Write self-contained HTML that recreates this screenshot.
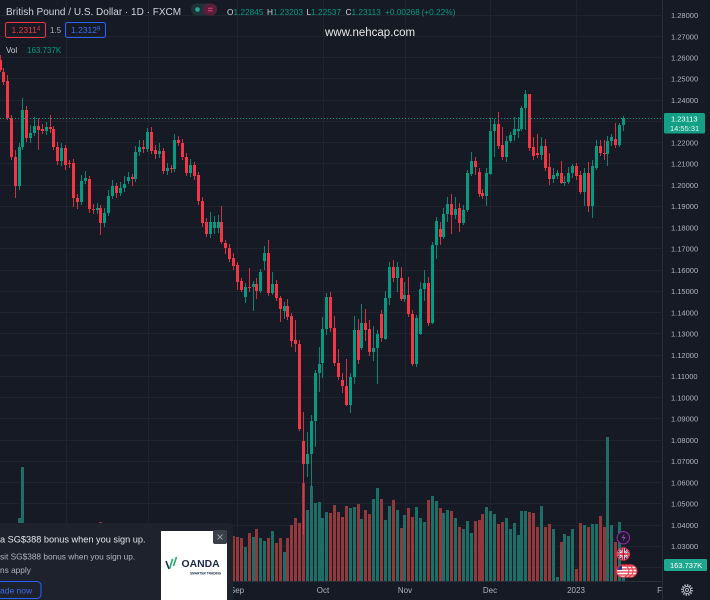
<!DOCTYPE html>
<html><head><meta charset="utf-8">
<style>
html,body{margin:0;padding:0;background:#161a25;width:710px;height:600px;overflow:hidden}
svg{display:block}
text{font-family:"Liberation Sans",sans-serif}
</style></head>
<body>
<svg width="710" height="600" viewBox="0 0 710 600" xmlns="http://www.w3.org/2000/svg">
<rect width="710" height="600" fill="#161a25"/>
<!-- grid -->
<path stroke="#20242f" stroke-width="1" fill="none" d="M0 15.5H663M0 36.5H663M0 57.5H663M0 78.5H663M0 100.5H663M0 121.5H663M0 142.5H663M0 163.5H663M0 185.5H663M0 206.5H663M0 227.5H663M0 248.5H663M0 270.5H663M0 291.5H663M0 312.5H663M0 333.5H663M0 355.5H663M0 376.5H663M0 397.5H663M0 418.5H663M0 440.5H663M0 461.5H663M0 482.5H663M0 503.5H663M0 525.5H663M0 546.5H663M0 567.5H663M66.5 0V581M148.5 0V581M237.5 0V581M323.5 0V581M405.5 0V581M490.5 0V581M576.5 0V581"/>

<!-- volumes -->
<path fill="#1d6e66" d="M18 518h3V581h-3zM21 467h3V581h-3zM244 547h3V581h-3zM252 537h3V581h-3zM259 538h3V581h-3zM263 541h3V581h-3zM271 531h3V581h-3zM283 552h3V581h-3zM306 510h3V581h-3zM310 486h3V581h-3zM314 503h3V581h-3zM318 502h3V581h-3zM321 518h3V581h-3zM325 512h3V581h-3zM349 508h3V581h-3zM353 507h3V581h-3zM360 519h3V581h-3zM372 499h3V581h-3zM376 488h3V581h-3zM384 520h3V581h-3zM388 506h3V581h-3zM396 510h3V581h-3zM403 515h3V581h-3zM415 507h3V581h-3zM419 518h3V581h-3zM423 522h3V581h-3zM431 496h3V581h-3zM435 501h3V581h-3zM442 513h3V581h-3zM446 510h3V581h-3zM454 518h3V581h-3zM462 529h3V581h-3zM466 521h3V581h-3zM470 533h3V581h-3zM485 507h3V581h-3zM489 511h3V581h-3zM493 514h3V581h-3zM505 518h3V581h-3zM509 529h3V581h-3zM513 523h3V581h-3zM517 535h3V581h-3zM520 511h3V581h-3zM524 511h3V581h-3zM540 506h3V581h-3zM552 529h3V581h-3zM556 577h3V581h-3zM563 534h3V581h-3zM567 536h3V581h-3zM571 529h3V581h-3zM583 525h3V581h-3zM591 524h3V581h-3zM595 524h3V581h-3zM606 437h3V581h-3zM610 525h3V581h-3zM618 522h3V581h-3zM622 567h3V581h-3z"/>
<path fill="#93393b" d="M99 522h3V581h-3zM232 536h3V581h-3zM236 537h3V581h-3zM240 538h3V581h-3zM248 533h3V581h-3zM255 529h3V581h-3zM267 538h3V581h-3zM275 543h3V581h-3zM279 538h3V581h-3zM286 538h3V581h-3zM290 525h3V581h-3zM294 518h3V581h-3zM298 523h3V581h-3zM302 483h3V581h-3zM329 513h3V581h-3zM333 505h3V581h-3zM337 512h3V581h-3zM341 517h3V581h-3zM345 506h3V581h-3zM357 504h3V581h-3zM364 510h3V581h-3zM368 514h3V581h-3zM380 499h3V581h-3zM392 500h3V581h-3zM400 528h3V581h-3zM407 508h3V581h-3zM411 517h3V581h-3zM427 500h3V581h-3zM439 508h3V581h-3zM450 511h3V581h-3zM458 527h3V581h-3zM474 521h3V581h-3zM478 520h3V581h-3zM481 514h3V581h-3zM497 524h3V581h-3zM501 522h3V581h-3zM528 512h3V581h-3zM532 513h3V581h-3zM536 527h3V581h-3zM544 527h3V581h-3zM548 524h3V581h-3zM560 542h3V581h-3zM575 569h3V581h-3zM579 523h3V581h-3zM587 527h3V581h-3zM599 516h3V581h-3zM603 527h3V581h-3zM614 542h3V581h-3z"/>

<!-- wicks -->
<path stroke="#089981" stroke-width="1" stroke-opacity="0.85" fill="none" d="M19.5 143V190M22.5 98V150M30.5 125V143M34.5 117V136M46.5 122V135M61.5 143V166M81.5 175V205M85.5 171V184M97.5 203V214M104.5 208V227M108.5 190V216M112.5 180V199M120.5 182V196M124.5 176V192M128.5 172V184M135.5 146V182M139.5 140V156M147.5 128V152M159.5 143V158M167.5 163V175M174.5 134V172M190.5 159V177M210.5 212V238M214.5 216V234M218.5 215V233M245.5 283V303M253.5 281V311M260.5 269V293M264.5 246V270M272.5 272V295M284.5 302V319M307.5 432V477M311.5 415V487M315.5 370V447M319.5 347V392M322.5 317V378M326.5 293V335M350.5 373V413M354.5 316V384M361.5 304V350M373.5 326V361M377.5 330V384M385.5 291V340M389.5 262V305M397.5 262V292M404.5 282V302M416.5 315V367M420.5 282V335M424.5 270V301M432.5 242V324M436.5 217V259M443.5 208V239M447.5 197V222M455.5 197V219M463.5 205V225M467.5 170V212M471.5 152V176M486.5 168V206M490.5 118V175M494.5 119V157M506.5 136V162M510.5 132V143M514.5 117V141M518.5 117V138M521.5 106V131M525.5 90V130M541.5 137V160M553.5 168V183M557.5 170V179M564.5 176V186M568.5 167V184M572.5 164V178M584.5 168V206M592.5 160V218M596.5 140V170M607.5 136V166M611.5 134V146M619.5 123V147M623.5 116V131"/>
<path stroke="#f23645" stroke-width="1" stroke-opacity="0.85" fill="none" d="M0.5 55V72M3.5 68V85M7.5 75V120M11.5 115V160M15.5 150V198M26.5 106V142M38.5 118V150M42.5 124V134M50.5 115V133M53.5 126V150M57.5 142V165M65.5 145V170M69.5 160V168M73.5 159V207M77.5 194V209M89.5 176V213M93.5 204V214M100.5 205V235M116.5 183V198M132.5 174V186M143.5 140V153M151.5 127V154M155.5 145V159M163.5 148V174M171.5 165V173M178.5 136V146M182.5 139V160M186.5 153V176M194.5 162V180M198.5 172V205M202.5 197V227M206.5 218V237M221.5 206V244M225.5 240V254M229.5 244V262M233.5 253V270M237.5 262V290M241.5 278V292M249.5 268V292M256.5 278V299M268.5 240V296M276.5 280V301M280.5 296V322M287.5 299V320M291.5 313V347M295.5 320V352M299.5 340V431M303.5 412V535M330.5 292V332M334.5 316V366M338.5 349V380M342.5 373V393M346.5 359V406M358.5 319V364M365.5 309V341M369.5 320V356M381.5 310V342M393.5 260V282M401.5 267V301M408.5 277V317M412.5 310V366M428.5 277V326M440.5 222V245M451.5 194V234M459.5 203V232M475.5 157V175M479.5 168V197M482.5 189V199M498.5 112V149M502.5 127V160M529.5 94V151M533.5 137V160M537.5 134V158M545.5 139V171M549.5 153V185M561.5 161V184M576.5 163V180M580.5 171V194M588.5 162V212M600.5 140V156M604.5 140V160M615.5 123V148"/>

<!-- bodies -->
<path fill="#089981" d="M18 147h3v39h-3zM21 110h3v37h-3zM29 133h3v5h-3zM33 126h3v7h-3zM45 127h3v4h-3zM60 148h3v13h-3zM80 181h3v21h-3zM84 178h3v3h-3zM96 208h3v2h-3zM103 213h3v10h-3zM107 196h3v17h-3zM111 186h3v10h-3zM119 188h3v5h-3zM123 184h3v4h-3zM127 177h3v4h-3zM134 152h3v27h-3zM138 147h3v5h-3zM146 132h3v17h-3zM158 151h3v3h-3zM166 168h3v3h-3zM173 140h3v29h-3zM189 165h3v8h-3zM209 222h3v12h-3zM213 222h3v6h-3zM217 222h3v6h-3zM244 287h3v10h-3zM252 284h3v3h-3zM259 272h3v19h-3zM263 253h3v8h-3zM271 284h3v9h-3zM283 306h3v5h-3zM306 454h3v10h-3zM310 421h3v33h-3zM314 373h3v48h-3zM318 364h3v9h-3zM321 329h3v34h-3zM325 297h3v32h-3zM349 377h3v28h-3zM353 330h3v47h-3zM360 323h3v25h-3zM372 348h3v4h-3zM376 334h3v14h-3zM384 298h3v41h-3zM388 267h3v31h-3zM396 267h3v11h-3zM403 295h3v4h-3zM415 318h3v46h-3zM419 289h3v45h-3zM423 283h3v6h-3zM431 245h3v78h-3zM435 221h3v24h-3zM442 214h3v23h-3zM446 204h3v10h-3zM454 209h3v6h-3zM462 210h3v13h-3zM466 173h3v37h-3zM470 161h3v13h-3zM485 173h3v23h-3zM489 131h3v43h-3zM493 124h3v7h-3zM505 141h3v16h-3zM509 135h3v6h-3zM513 129h3v6h-3zM517 129h3v2h-3zM520 108h3v21h-3zM524 94h3v14h-3zM540 146h3v9h-3zM552 175h3v4h-3zM556 173h3v3h-3zM563 182h3v1h-3zM567 173h3v9h-3zM571 166h3v7h-3zM583 173h3v19h-3zM591 166h3v40h-3zM595 146h3v22h-3zM606 141h3v13h-3zM610 137h3v4h-3zM618 125h3v20h-3zM622 118h3v7h-3z"/>
<path fill="#f23645" d="M-1 60h3v10h-3zM2 72h3v10h-3zM6 81h3v37h-3zM10 118h3v39h-3zM14 157h3v29h-3zM25 110h3v28h-3zM37 126h3v4h-3zM41 129h3v2h-3zM49 127h3v2h-3zM52 129h3v18h-3zM56 147h3v14h-3zM64 148h3v17h-3zM68 163h3v1h-3zM72 163h3v35h-3zM76 198h3v4h-3zM88 179h3v30h-3zM92 209h3v1h-3zM99 208h3v15h-3zM115 186h3v7h-3zM131 177h3v2h-3zM142 147h3v2h-3zM150 132h3v19h-3zM154 150h3v4h-3zM162 151h3v20h-3zM170 168h3v1h-3zM177 140h3v3h-3zM181 143h3v14h-3zM185 157h3v16h-3zM193 165h3v11h-3zM197 175h3v26h-3zM201 201h3v22h-3zM205 222h3v12h-3zM220 222h3v20h-3zM224 243h3v5h-3zM228 248h3v11h-3zM232 258h3v8h-3zM236 265h3v17h-3zM240 281h3v9h-3zM248 287h3v1h-3zM255 284h3v7h-3zM267 253h3v40h-3zM275 284h3v14h-3zM279 298h3v11h-3zM286 306h3v11h-3zM290 316h3v25h-3zM294 340h3v4h-3zM298 344h3v85h-3zM302 441h3v23h-3zM329 297h3v31h-3zM333 328h3v35h-3zM337 363h3v14h-3zM341 380h3v6h-3zM345 386h3v19h-3zM357 330h3v30h-3zM364 323h3v7h-3zM368 329h3v23h-3zM380 314h3v24h-3zM392 267h3v11h-3zM400 278h3v21h-3zM407 295h3v19h-3zM411 314h3v50h-3zM427 283h3v40h-3zM439 229h3v8h-3zM450 204h3v11h-3zM458 208h3v15h-3zM474 161h3v6h-3zM478 172h3v22h-3zM481 193h3v3h-3zM497 124h3v22h-3zM501 145h3v12h-3zM528 94h3v54h-3zM532 147h3v9h-3zM536 153h3v2h-3zM544 146h3v22h-3zM548 167h3v12h-3zM560 173h3v10h-3zM575 166h3v10h-3zM579 175h3v17h-3zM587 173h3v33h-3zM599 146h3v7h-3zM603 153h3v1h-3zM614 139h3v6h-3z"/>

<!-- current price line -->
<path d="M0 118.5H663" stroke="#089981" stroke-width="1" stroke-dasharray="1 2"/>

<!-- time axis -->
<path d="M0 581.5H663" stroke="#2a2e39" stroke-width="1"/>
<g font-size="8" fill="#b2b5be" text-anchor="middle">
<text x="237" y="593">Sep</text>
<text x="323" y="593">Oct</text>
<text x="405" y="593">Nov</text>
<text x="490" y="593">Dec</text>
<text x="576" y="593">2023</text>
<text x="664" y="593">Feb</text>
</g>

<!-- event icons -->
<defs>
<clipPath id="cuk"><circle cx="623.3" cy="554" r="6"/></clipPath>
<clipPath id="cus1"><circle cx="630.7" cy="571" r="6"/></clipPath>
<clipPath id="cus2"><circle cx="626.7" cy="571" r="6"/></clipPath>
<clipPath id="cus3"><circle cx="622.7" cy="571" r="6"/></clipPath>
</defs>
<circle cx="623.3" cy="537.7" r="6.2" fill="#1e1a2e" stroke="#9c27b0" stroke-width="1"/>
<path d="M624.5 533.5l-3 4.6h2.4l-1.4 3.8 3.2-4.8h-2.4z" fill="#b03ccc"/>
<g clip-path="url(#cuk)">
<rect x="616" y="547" width="15" height="14" fill="#012169"/>
<path d="M616 547L631 561M631 547L616 561" stroke="#fff" stroke-width="2"/>
<path d="M616 547L631 561M631 547L616 561" stroke="#c8102e" stroke-width="0.7"/>
<path d="M623.3 547V561M616 554H631" stroke="#fff" stroke-width="3"/>
<path d="M623.3 547V561M616 554H631" stroke="#c8102e" stroke-width="1.6"/>
</g>
<circle cx="623.3" cy="554" r="6.2" fill="none" stroke="#f23645" stroke-width="1"/>
<g>
<g clip-path="url(#cus1)"><rect x="624" y="564" width="14" height="14" fill="#fff"/><path d="M624 566H638M624 569H638M624 572H638M624 575H638" stroke="#d22f3a" stroke-width="1.2"/><rect x="624" y="564" width="6" height="6" fill="#2d3a8c"/></g>
<circle cx="630.7" cy="571" r="6.2" fill="none" stroke="#f23645" stroke-width="1"/>
<g clip-path="url(#cus2)"><rect x="620" y="564" width="14" height="14" fill="#fff"/><path d="M620 566H634M620 569H634M620 572H634M620 575H634" stroke="#d22f3a" stroke-width="1.2"/><rect x="620" y="564" width="6" height="6" fill="#2d3a8c"/></g>
<circle cx="626.7" cy="571" r="6.2" fill="none" stroke="#f23645" stroke-width="1"/>
<g clip-path="url(#cus3)"><rect x="616" y="564" width="14" height="14" fill="#fff"/><path d="M616 566H630M616 569H630M616 572H630M616 575H630" stroke="#d22f3a" stroke-width="1.2"/><rect x="616" y="564" width="6" height="6" fill="#2d3a8c"/></g>
<circle cx="622.7" cy="571" r="6.2" fill="none" stroke="#f23645" stroke-width="1"/>
</g>

<!-- right price axis -->
<rect x="663" y="0" width="47" height="600" fill="#161a25"/>
<path d="M662.5 0V600" stroke="#2a2e39" stroke-width="1"/>
<g font-size="7.5" fill="#b2b5be">
<text x="671" y="18">1.28000</text>
<text x="671" y="39.3">1.27000</text>
<text x="671" y="60.5">1.26000</text>
<text x="671" y="81.7">1.25000</text>
<text x="671" y="103">1.24000</text>
<text x="671" y="145.4">1.22000</text>
<text x="671" y="166.7">1.21000</text>
<text x="671" y="187.9">1.20000</text>
<text x="671" y="209.2">1.19000</text>
<text x="671" y="230.4">1.18000</text>
<text x="671" y="251.6">1.17000</text>
<text x="671" y="272.9">1.16000</text>
<text x="671" y="294.1">1.15000</text>
<text x="671" y="315.4">1.14000</text>
<text x="671" y="336.6">1.13000</text>
<text x="671" y="357.8">1.12000</text>
<text x="671" y="379.1">1.11000</text>
<text x="671" y="400.3">1.10000</text>
<text x="671" y="421.6">1.09000</text>
<text x="671" y="442.8">1.08000</text>
<text x="671" y="464">1.07000</text>
<text x="671" y="485.3">1.06000</text>
<text x="671" y="506.5">1.05000</text>
<text x="671" y="527.8">1.04000</text>
<text x="671" y="549">1.03000</text>
</g>
<rect x="664" y="113" width="41" height="20.5" rx="1.5" fill="#13a087"/>
<text x="671" y="121.5" font-size="7.5" fill="#ffffff">1.23113</text>
<text x="670" y="131" font-size="7.5" fill="#e8f5f2">14:55:31</text>
<rect x="664" y="559" width="43" height="12" rx="1.5" fill="#1fa88f"/>
<text x="670" y="567.8" font-size="7.5" fill="#ffffff">163.737K</text>
<!-- gear -->
<circle cx="687" cy="590" r="5" fill="none" stroke="#b2b5be" stroke-width="1.8" stroke-dasharray="1.4 1.2"/>
<circle cx="687" cy="590" r="3.6" fill="none" stroke="#b2b5be" stroke-width="1"/>
<circle cx="687" cy="590" r="1.5" fill="none" stroke="#b2b5be" stroke-width="0.9"/>

<!-- header -->
<text x="6" y="15" font-size="10" fill="#d1d4dc">British Pound / U.S. Dollar · 1D · FXCM</text>
<rect x="191" y="3.5" width="26" height="12" rx="6" fill="#1f3237"/>
<rect x="203" y="3.5" width="14" height="12" rx="6" fill="#5c1f3b"/>
<circle cx="197.5" cy="9.5" r="2.3" fill="#22ab94"/>
<path d="M208 8.3h4.5M208 10.8h4.5" stroke="#e0467c" stroke-width="1"/>
<g font-size="8.3">
<text x="227" y="15" fill="#d1d4dc">O<tspan fill="#089981">1.22845</tspan></text>
<text x="267" y="15" fill="#d1d4dc">H<tspan fill="#089981">1.23203</tspan></text>
<text x="306.5" y="15" fill="#d1d4dc">L<tspan fill="#089981">1.22537</tspan></text>
<text x="345.5" y="15" fill="#d1d4dc">C<tspan fill="#089981">1.23113</tspan></text>
<text x="385" y="15" fill="#089981">+0.00268</text>
<text x="421.5" y="15" fill="#089981">(+0.22%)</text>
</g>
<rect x="5.5" y="22.5" width="40" height="15" rx="2" fill="none" stroke="#f23645" stroke-width="1"/>
<text x="11.5" y="33" font-size="8.5" fill="#f23645">1.2311<tspan font-size="6" dy="-2.5">4</tspan></text>
<text x="50" y="33" font-size="8" fill="#b2b5be">1.5</text>
<rect x="65.5" y="22.5" width="40" height="15" rx="2" fill="none" stroke="#2962ff" stroke-width="1"/>
<text x="71" y="33" font-size="8.5" fill="#3d6ef5">1.2312<tspan font-size="6" dy="-2.5">9</tspan></text>
<text x="6" y="53" font-size="8" fill="#d1d4dc">Vol</text>
<text x="27" y="53" font-size="8" fill="#089981">163.737K</text>
<text x="325" y="36" font-size="11.5" fill="#e8e8e8">www.nehcap.com</text>

<!-- ad -->
<path d="M-5 523H229a4 4 0 0 1 4 4V605H-5z" fill="#1e222d"/>
<text x="0" y="542.5" font-size="9.2" fill="#e6e8ee">a SG$388 bonus when you sign up.</text>
<text x="0" y="559.5" font-size="8.3" fill="#b2b5be">sit SG$388 bonus when you sign up.</text>
<text x="0" y="573" font-size="8.3" fill="#b2b5be">ns apply</text>
<rect x="-5" y="581.5" width="46" height="17" rx="4" fill="none" stroke="#2962ff" stroke-width="1"/>
<text x="0" y="593.5" font-size="8.5" fill="#3d6ef5">ade now</text>
<rect x="161" y="531" width="66" height="72" fill="#ffffff"/>
<path d="M166 561l3 8" stroke="#1b2a48" stroke-width="1.6" fill="none"/>
<path d="M169.5 569l3-10M173.5 566l3-9" stroke="#1fae6a" stroke-width="1.6" fill="none"/>
<text x="181.5" y="567" font-size="10.4" font-weight="bold" fill="#1b2a48">OANDA</text>
<text x="190" y="574.5" font-size="3.2" font-weight="bold" fill="#1b2a48">SMARTER TRADING</text>
<rect x="213" y="530" width="14" height="14" rx="2" fill="#3a3e49"/>
<path d="M217.5 534.5l5 5M222.5 534.5l-5 5" stroke="#9598a1" stroke-width="1"/>
</svg>
</body></html>
